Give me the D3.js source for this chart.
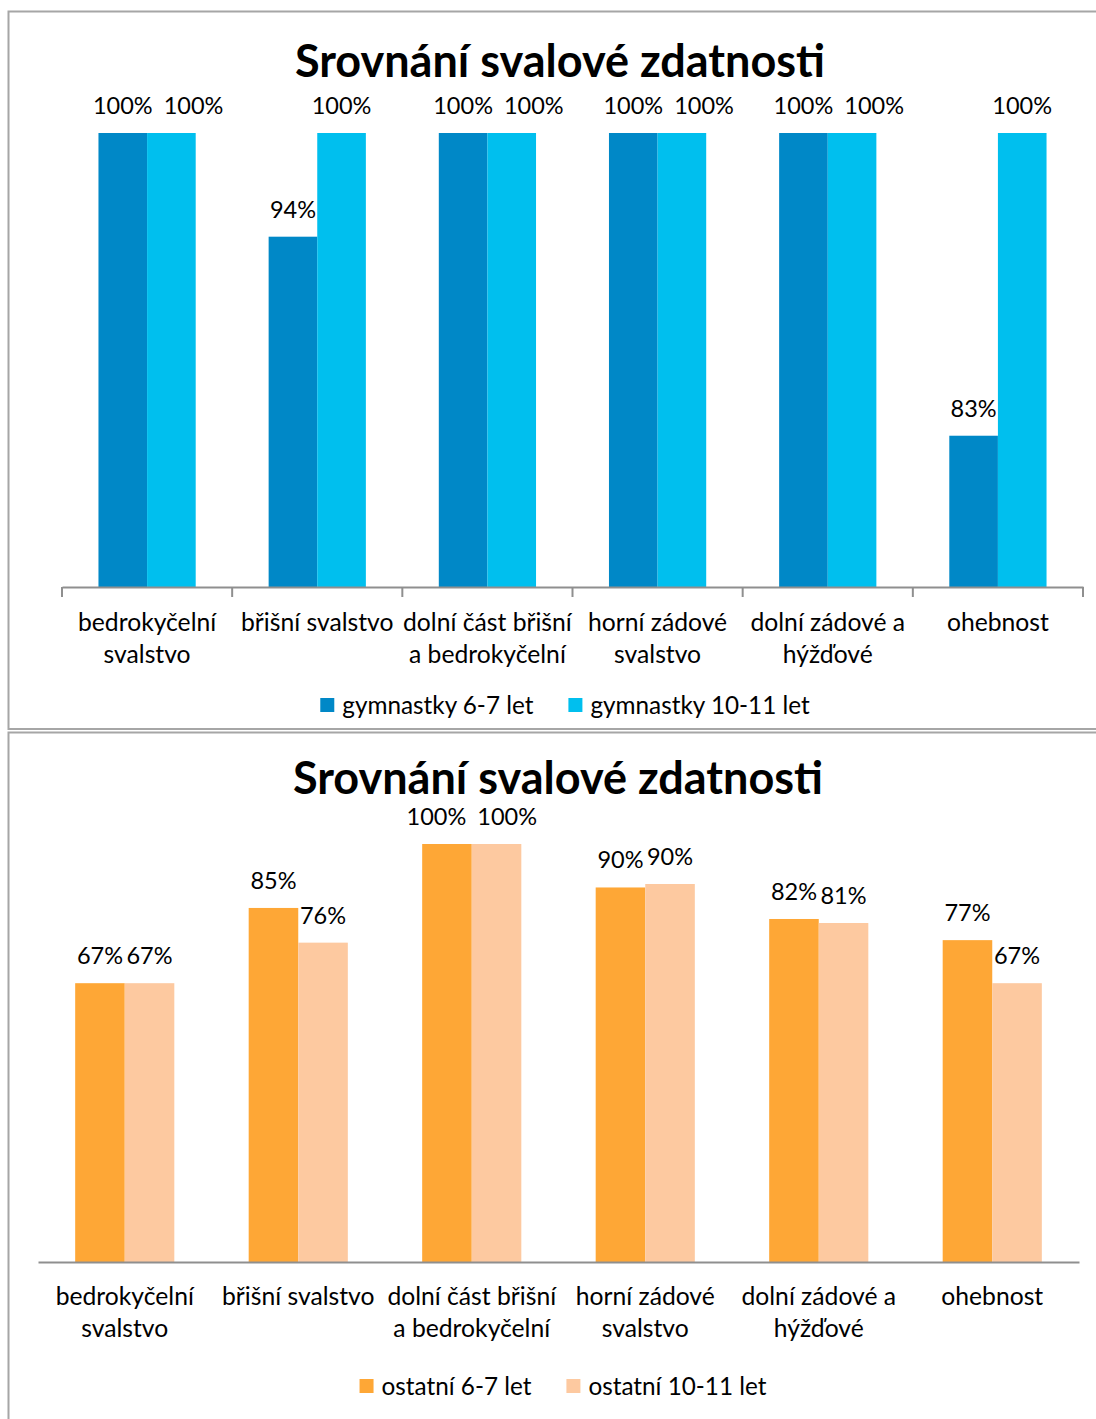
<!DOCTYPE html>
<html>
<head>
<meta charset="utf-8">
<script src="https://cdn.jsdelivr.net/npm/d3@7"></script>
<style>
  body { margin: 0; background: #fff; }
  text { font-family: Lato, "Open Sans", sans-serif; fill: #000; }
</style>
</head>
<body>
<svg id="chart" width="1096" height="1419"></svg>
<script>
// categories (line breaks as in the original labels)
const categories = [
    "bedrokyčelní\nsvalstvo",
    "břišní svalstvo",
    "dolní část břišní\na bedrokyčelní",
    "horní zádové\nsvalstvo",
    "dolní zádové a\nhýžďové",
    "ohebnost"
];

const titleText = "Srovnání svalové zdatnosti";

// top chart: gymnastky
const gymSeries = ["gymnastky 6-7 let", "gymnastky 10-11 let"];
const gym67 = [1, 0.9429, 1, 1, 1, 0.8333];
const gym1011 = [1, 1, 1, 1, 1, 1];
const gymColors = ["#0088c7", "#00bfee"];

// bottom chart: ostatní
const othSeries = ["ostatní 6-7 let", "ostatní 10-11 let"];
const oth67 = [0.667, 0.847, 1, 0.896, 0.8206, 0.770];
const oth1011 = [0.667, 0.764, 1, 0.9043, 0.811, 0.667];
const othColors = ["#fea736", "#fdc9a0"];

const svg = d3.select("#chart");
const pct = d3.format(".0%");

function drawChart(cfg) {

    const g = svg.append("g");

    // frame
    g.append("path")
        .attr("d", cfg.frame)
        .attr("fill", "none")
        .attr("stroke", "#a6a6a6")
        .attr("stroke-width", 2);

    g.append("text")
        .attr("x", cfg.titleX)
        .attr("y", cfg.titleY)
        .attr("text-anchor", "middle")
        .style("font-size", "45px")
        .style("font-weight", "bold")
        .text(titleText);

    const x = d3.scaleBand()
        .domain(categories)
        .range([cfg.left, cfg.right])
        .padding(0);

    // Excel style gap width 150%
    const x1 = d3.scaleBand()
        .domain(cfg.series)
        .range([0, x.bandwidth()])
        .paddingInner(0)
        .paddingOuter(0.75);

    const y = d3.scaleLinear()
        .domain(cfg.domain)
        .range([cfg.baseline, cfg.top]);

    const rows = categories.map((c, i) => ({
        cat: c,
        values: cfg.series.map((s, j) => ({ key: s, value: cfg.values[j][i], idx: j }))
    }));

    const groups = g.selectAll(".grp")
        .data(rows)
        .join("g")
        .attr("class", "grp")
        .attr("transform", d => `translate(${x(d.cat)},0)`);

    groups.selectAll("rect")
        .data(d => d.values)
        .join("rect")
        .attr("x", d => x1(d.key))
        .attr("y", d => y(d.value))
        .attr("width", x1.bandwidth())
        .attr("height", d => cfg.baseline - y(d.value))
        .attr("fill", d => cfg.colors[d.idx]);

    // data labels
    groups.selectAll(".lbl")
        .data(d => d.values)
        .join("text")
        .attr("class", "lbl")
        .attr("x", d => x1(d.key) + x1.bandwidth() / 2)
        .attr("y", d => y(d.value) - 19)
        .attr("text-anchor", "middle")
        .style("font-size", "23.5px")
        .text(d => pct(d.value));

    // push labels apart when they collide (like Excel does)
    groups.each(function () {
        const lbls = d3.select(this).selectAll(".lbl").nodes();
        const a = lbls[0].getBBox(), b = lbls[1].getBBox();
        const vOverlap = Math.abs(a.y - b.y) < a.height;
        if (vOverlap && b.x - (a.x + a.width) < 2) {
            const need = (a.x + a.width + 11) - b.x;
            const share = cfg.spreadBoth ? need / 2 : 0;
            d3.select(lbls[0]).attr("x", +lbls[0].getAttribute("x") - share);
            d3.select(lbls[1]).attr("x", +lbls[1].getAttribute("x") + need - share);
        }
    });

    // category axis
    const axis = g.append("g")
        .attr("transform", `translate(0,${cfg.baseline})`)
        .call(d3.axisBottom(x).tickSize(0).tickSizeOuter(0).tickFormat(""));
    axis.select(".domain").attr("stroke", "#8f8f8f").attr("stroke-width", 2);

    if (cfg.ticks) {
        axis.selectAll(".bound")
            .data(categories.map(c => x(c)).concat([x.range()[1]]))
            .join("line")
            .attr("class", "bound")
            .attr("x1", d => d).attr("x2", d => d)
            .attr("y1", 0).attr("y2", 10)
            .attr("stroke", "#8f8f8f")
            .attr("stroke-width", 2);
    }

    const catText = g.selectAll(".cat")
        .data(categories)
        .join("text")
        .attr("class", "cat")
        .attr("text-anchor", "middle")
        .style("font-size", "24.7px");

    catText.selectAll("tspan")
        .data(d => d.split("\n").map(t => ({ t: t, x: x(d) + x.bandwidth() / 2 })))
        .join("tspan")
        .attr("x", d => d.x)
        .attr("y", (d, i) => cfg.catY + i * 32)
        .text(d => d.t);

    // legend
    const leg = g.append("g");
    const items = leg.selectAll("g")
        .data(cfg.series)
        .join("g");
    items.append("rect")
        .attr("width", 14).attr("height", 14)
        .attr("y", cfg.legendY - 7)
        .attr("fill", (d, i) => cfg.colors[i]);
    items.append("text")
        .attr("x", 22)
        .attr("y", cfg.legendY)
        .attr("dy", "0.35em")
        .style("font-size", "24.3px")
        .text(d => d);

    var offset = 0;
    items.each(function () {
        const w = d3.select(this).select("text").node().getComputedTextLength();
        d3.select(this).attr("transform", `translate(${offset},0)`);
        offset += 22 + w + 35;
    });
    const total = offset - 35;
    leg.attr("transform", `translate(${cfg.legendCx - total / 2},0)`);
}

drawChart({
    frame: "M1100,11.5 H8.5 V729 H1100",
    titleX: 560, titleY: 77,
    left: 62, right: 1083,
    baseline: 587, top: 133,
    domain: [0.75, 1],
    series: gymSeries,
    values: [gym67, gym1011],
    colors: gymColors,
    ticks: true,
    spreadBoth: false,
    catY: 631,
    legendY: 705, legendCx: 565
});

drawChart({
    frame: "M1100,732.5 H8.5 V1425",
    titleX: 558, titleY: 794,
    left: 38, right: 1079,
    baseline: 1262, top: 844,
    domain: [0, 1],
    series: othSeries,
    values: [oth67, oth1011],
    colors: othColors,
    ticks: false,
    spreadBoth: true,
    catY: 1305,
    legendY: 1386, legendCx: 563
});
</script>
</body>
</html>
